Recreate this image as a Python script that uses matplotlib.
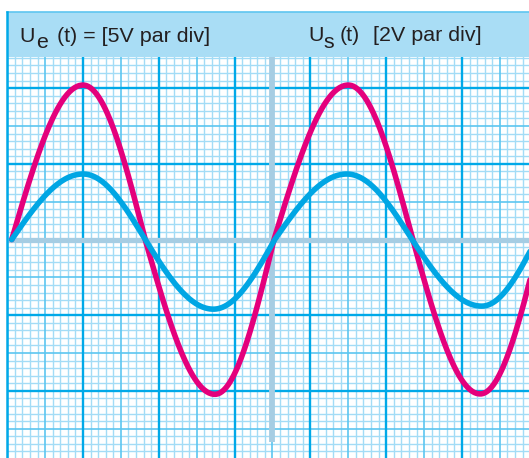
import numpy as np
import matplotlib.pyplot as plt

# key points of each trace (time in div, level in div)
# zero crossings, peaks and troughs
ue_t = [0.06, 1.00, 1.82, 2.74, 3.52, 4.50, 5.35, 6.24, 7.03]
ue_v = [0.0, 2.04, 0.0, -2.045, 0.0, 2.04, 0.0, -2.04, 0.0]
us_t = [0.06, 1.00, 1.82, 2.72, 3.53, 4.48, 5.34, 6.26, 6.98]
us_v = [0.0, 0.865, 0.0, -0.92, 0.0, 0.865, 0.0, -0.88, 0.0]

ue_label = ["U", "e", "(t) = [5V par div]"]
us_label = ["U", "s", "(t)", "[2V par div]"]

MAGENTA = '#E4007C'
CYAN = '#00A6E4'
MAJOR = '#00A9E8'
MEDIUM = '#5CC6F0'
MINOR = '#A3DCF6'
AXIS = '#A6CDE3'
HEAD = '#A9DDF5'
INK = '#231F20'

plt.rcParams['font.family'] = ['Liberation Sans', 'DejaVu Sans']


def wave(t_keys, v_keys, n=60):
    # quarter sine between each pair of key points
    xs, ys = [], []
    for i in range(len(t_keys) - 1):
        t0, t1 = t_keys[i], t_keys[i + 1]
        amp = max(abs(v_keys[i]), abs(v_keys[i + 1]))
        s = np.linspace(0, 1, n)
        xs.append(t0 + s * (t1 - t0))
        ys.append(amp * np.sin((i + s) * np.pi / 2))
    return np.concatenate(xs), np.concatenate(ys)


W, H = 529, 458
fig = plt.figure(figsize=(W / 100, H / 100), dpi=100)
ax = fig.add_axes([7.2 / W, 0, (W - 7.2) / W, 446 / H])
xmax, ymin, ymax = 6.884, -2.886, 3.005
ax.set_xlim(0, xmax)
ax.set_ylim(ymin, ymax)
ax.axis('off')

head_bottom = 2.41

# graph paper: minor every 0.1, medium every 0.5, major every 1
for k in range(0, 71):
    x = k / 10
    if k % 10 == 0:
        ax.axvline(x, color=MAJOR, lw=1.7, zorder=2)
    elif k % 5 == 0:
        ax.axvline(x, color=MEDIUM, lw=1.2, zorder=1.5)
    else:
        ax.axvline(x, color=MINOR, lw=1.0, zorder=1)
for k in range(-29, 31):
    y = k / 10
    if k % 10 == 0:
        ax.axhline(y, color=MAJOR, lw=1.7, zorder=2)
    elif k % 5 == 0:
        ax.axhline(y, color=MEDIUM, lw=1.2, zorder=1.5)
    else:
        ax.axhline(y, color=MINOR, lw=1.0, zorder=1)

# centre axes (grey-blue)
ax.axhline(0, color=AXIS, lw=3.8, zorder=3)
ax.plot([3.5, 3.5], [-2.675, head_bottom], color=AXIS, lw=4.2, zorder=3,
        solid_capstyle='butt')

# traces
x, y = wave(ue_t, ue_v)
ax.plot(x, y, color=MAGENTA, lw=4.0, zorder=4, solid_capstyle='round')
x, y = wave(us_t, us_v)
ax.plot(x, y, color=CYAN, lw=4.0, zorder=4, solid_capstyle='round')

# header band
ax.axhspan(head_bottom, ymax, color=HEAD, zorder=5, lw=0)
ax.axhline(ymax - 0.005, color='#5FC5F0', lw=1.2, zorder=6, clip_on=False)
ax.axvline(0, color=MAJOR, lw=1.8, zorder=6, clip_on=False)


def label(px, py, s):
    fig.text(px / W, 1 - py / H, s, fontsize=15.4, color=INK,
             ha='left', va='baseline')


label(19, 41.5, ue_label[0])
label(36, 48, ue_label[1])
label(57, 41.5, ue_label[2])
label(308, 41, us_label[0])
label(323, 48, us_label[1])
label(340, 41, us_label[2])
label(373, 41, us_label[3])

fig.savefig('out.png', dpi=100)
